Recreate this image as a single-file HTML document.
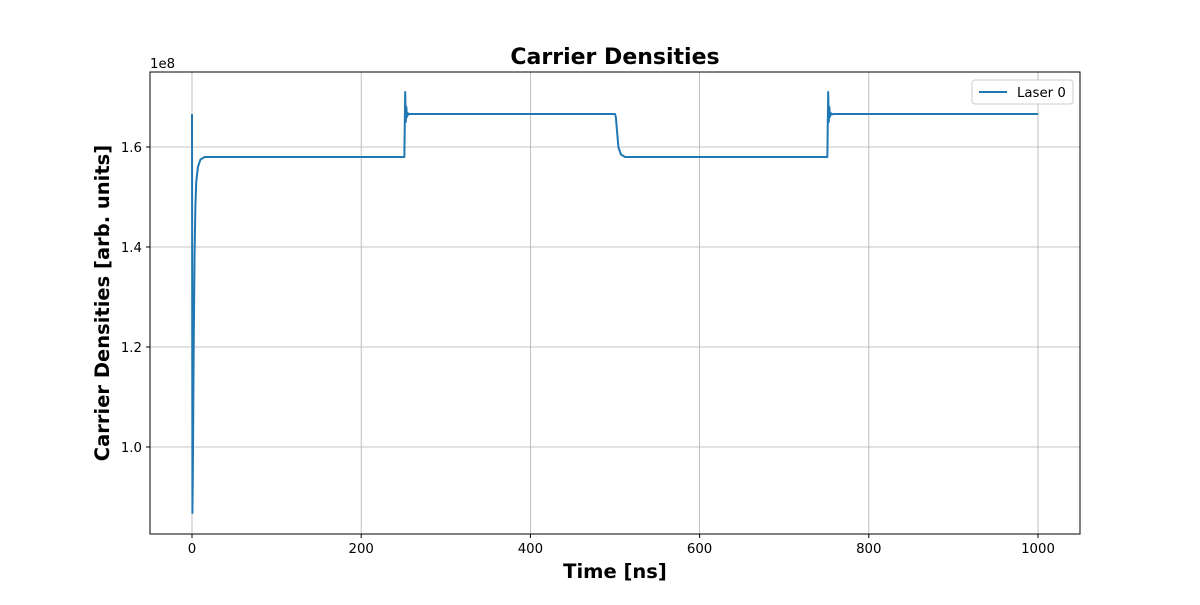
<!DOCTYPE html>
<html><head><meta charset="utf-8"><style>
body{margin:0;background:#fff}
svg{font-family:"DejaVu Sans","Liberation Sans",sans-serif}
</style></head><body>
<svg id="chart" width="1200" height="600">
<rect x="0" y="0" width="1200" height="600" fill="#fff"/>
<g id="grid"></g>
<g id="ticks"></g>
<g id="series"></g>
<rect x="150" y="72" width="930" height="462" fill="none" stroke="#000" stroke-width="1"/>
<text x="615" y="64" text-anchor="middle" font-size="22" font-weight="bold">Carrier Densities</text>
<text x="615" y="578" text-anchor="middle" font-size="19.5" font-weight="bold">Time [ns]</text>
<text transform="translate(109,303) rotate(-90)" text-anchor="middle" font-size="19.5" font-weight="bold">Carrier Densities [arb. units]</text>
<text x="150" y="68" font-size="13.3">1e8</text>
<g>
<rect x="972" y="80" width="101" height="24" rx="3" fill="#fff" stroke="#ccc"/>
<line x1="979" y1="92" x2="1007" y2="92" stroke="#1f77b4" stroke-width="2"/>
<text x="1017" y="97" font-size="13.3">Laser 0</text>
</g>
</svg>
<script>
const xTicks=[0,200,400,600,800,1000];
const yTicks=[1.0,1.2,1.4,1.6];
const yTickLabels=["1.0","1.2","1.4","1.6"];
const times=[0,0.5,1,2,3,4,5,7,10,15,250,251,252,252.7,253.4,254,255,256,258,500,501,502,504,507,512,750,751,752,752.7,753.4,754,755,756,758,1000];
const laser0=[1.666,0.868,0.95,1.2,1.38,1.48,1.53,1.56,1.575,1.58,1.58,1.58,1.71,1.65,1.68,1.66,1.668,1.665,1.666,1.666,1.66,1.64,1.60,1.585,1.58,1.58,1.58,1.71,1.65,1.68,1.66,1.668,1.665,1.666,1.666];
const NS="http://www.w3.org/2000/svg";
const X=v=>192+v*0.846;
const Y=v=>447-(v-1.0)*500;
const grid=document.getElementById('grid'),ticks=document.getElementById('ticks'),series=document.getElementById('series');
function mk(tag,at,parent){const e=document.createElementNS(NS,tag);for(const k in at)e.setAttribute(k,at[k]);parent.appendChild(e);return e;}
xTicks.forEach(t=>{
const g=mk('line',{x1:X(t),x2:X(t),y1:72,y2:534,stroke:'#b0b0b0','stroke-width':0.8},grid);


const tk=mk('line',{x1:X(t),x2:X(t),y1:534,y2:538,stroke:'#000'},ticks);


const l=mk('text',{x:X(t),y:553,'text-anchor':'middle','font-size':13.3},ticks);l.textContent=t;


});
yTicks.forEach((t,i)=>{
const g=mk('line',{x1:150,x2:1080,y1:Y(t),y2:Y(t),stroke:'#b0b0b0','stroke-width':0.8},grid);


const tk=mk('line',{x1:146,x2:150,y1:Y(t),y2:Y(t),stroke:'#000'},ticks);


const l=mk('text',{x:142,y:Y(t)+5,'text-anchor':'end','font-size':13.3},ticks);l.textContent=yTickLabels[i];


});
const d=times.map((t,i)=>(i?'L':'M')+X(t).toFixed(2)+','+Y(laser0[i]).toFixed(2)).join(' ');
const p=mk('path',{d:d,fill:'none',stroke:'#1f77b4','stroke-width':2,'stroke-linejoin':'round'},series);


</script>
</body></html>
